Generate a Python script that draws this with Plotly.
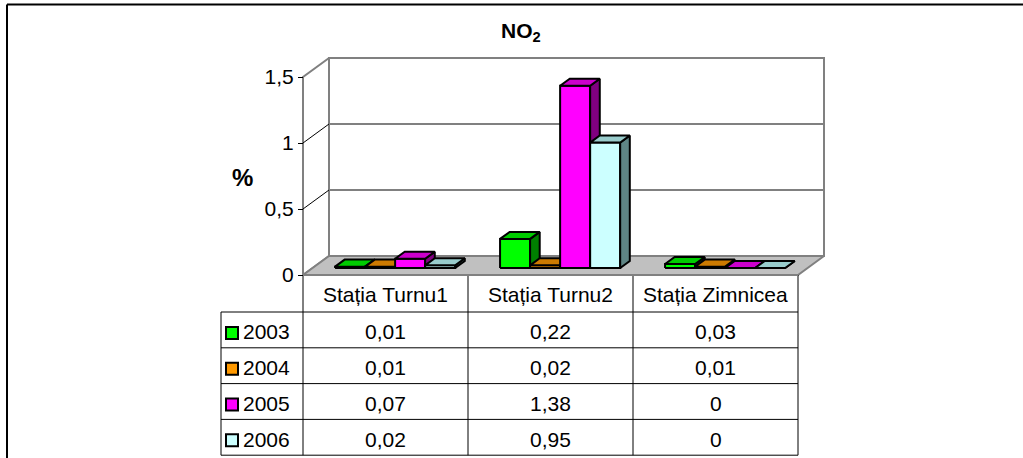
import plotly.graph_objects as go

# ---------------- data ----------------
categories = ["Stația Turnu1", "Stația Turnu2", "Stația Zimnicea"]
years = ["2003", "2004", "2005", "2006"]
v2003 = [0.01, 0.22, 0.03]
v2004 = [0.01, 0.02, 0.01]
v2005 = [0.07, 1.38, 0]
v2006 = [0.02, 0.95, 0]
y_tickvals = [0, 0.5, 1, 1.5]
y_ticktext = ["0", "0,5", "1", "1,5"]
title_text = "<b>NO<sub>2</sub></b>"
y_title = "<b>%</b>"

series = [v2003, v2004, v2005, v2006]

# ---------------- styles ----------------
front_colors = ["#00FF00", "#FF9900", "#FF00FF", "#CCFFFF"]
top_colors = ["#00CC00", "#CC7A00", "#CC00CC", "#99CCCC"]
side_colors = ["#008000", "#804D00", "#800080", "#5F8585"]
FONT = "Liberation Sans, Arial, sans-serif"
FS = 21

W, H = 1023, 458
# pixel layout of the front floor edge / value scale
PX_X0, PX_X1 = 303, 798
CAT_PX = (PX_X1 - PX_X0) / len(categories)
PX_Y0 = 275
PX_PER_UNIT = 132.0
DEPTH_DX_PX, DEPTH_DY_PX = 26, 19
YMAX = 1.5


def px2x(px):
    return (px - PX_X0) / CAT_PX


def py2y(py):
    return (PX_Y0 - py) / PX_PER_UNIT


DX = DEPTH_DX_PX / CAT_PX
DY = DEPTH_DY_PX / PX_PER_UNIT


def P(x, v, d):
    return (x + d * DX, v + d * DY)


fig = go.Figure()


def poly(points, fill, line_color, width):
    xs = [p[0] for p in points] + [points[0][0]]
    ys = [p[1] for p in points] + [points[0][1]]
    fig.add_trace(go.Scatter(x=xs, y=ys, mode="lines", fill="toself",
                             fillcolor=fill,
                             line=dict(color=line_color, width=width),
                             hoverinfo="skip", showlegend=False))


def seg(p0, p1, color, width):
    fig.add_trace(go.Scatter(x=[p0[0], p1[0]], y=[p0[1], p1[1]], mode="lines",
                             line=dict(color=color, width=width),
                             hoverinfo="skip", showlegend=False))


ncat = len(categories)
GRAY = "#808080"

# walls and floor
poly([P(0, 0, 1), P(0, YMAX, 1), P(ncat, YMAX, 1), P(ncat, 0, 1)], "white", GRAY, 2)
poly([P(0, 0, 0), P(0, YMAX, 0), P(0, YMAX, 1), P(0, 0, 1)], "white", GRAY, 2)
for v in y_tickvals[1:-1]:
    seg(P(0, v, 1), P(ncat, v, 1), GRAY, 2)
    seg(P(0, v, 0), P(0, v, 1), "black", 1)
poly([P(0, 0, 0), P(0, 0, 1), P(ncat, 0, 1), P(ncat, 0, 0)], "#C0C0C0", GRAY, 2)

# bars
BW = 0.182
GAP = 1 - BW * len(series)
D0, D1 = 0.37, 0.74
for i in range(ncat):
    for s, vals in enumerate(series):
        v = vals[i]
        xl = i + GAP / 2 + s * BW
        xr = xl + BW
        poly([P(xl, 0, D0), P(xl, v, D0), P(xr, v, D0), P(xr, 0, D0)],
             front_colors[s], "black", 2)
        poly([P(xr, 0, D0), P(xr, v, D0), P(xr, v, D1), P(xr, 0, D1)],
             side_colors[s], "black", 2)
        poly([P(xl, v, D0), P(xl, v, D1), P(xr, v, D1), P(xr, v, D0)],
             top_colors[s], "black", 2)

# data table
HEAD_BOTTOM = 312
ROW_H = 35.8
LEG_LEFT = 221
row_lines = [HEAD_BOTTOM + k * ROW_H for k in range(len(years) + 1)]
TABLE_BOTTOM = row_lines[-1]
for py in row_lines:
    seg((px2x(LEG_LEFT), py2y(py)), (ncat, py2y(py)), "black", 1)
for i in range(ncat + 1):
    seg((i, py2y(PX_Y0)), (i, py2y(TABLE_BOTTOM)), "black", 1)
seg((px2x(LEG_LEFT), py2y(HEAD_BOTTOM)), (px2x(LEG_LEFT), py2y(TABLE_BOTTOM)), "black", 1)
# floor front edge on top of the table
seg((0, 0), (ncat, 0), GRAY, 2)

annotations = []
for i, c in enumerate(categories):
    annotations.append(dict(x=i + 0.5, y=py2y((PX_Y0 + HEAD_BOTTOM) / 2 + 1), text=c,
                            showarrow=False, xanchor="center", yanchor="middle",
                            font=dict(family=FONT, size=FS, color="black")))


def fmt(v):
    if v == 0:
        return "0"
    return f"{v:.2f}".replace(".", ",")


for s, vals in enumerate(series):
    cy = py2y(row_lines[s] + ROW_H / 2 + 2)
    for i, v in enumerate(vals):
        annotations.append(dict(x=i + 0.5, y=cy, text=fmt(v), showarrow=False,
                                xanchor="center", yanchor="middle",
                                font=dict(family=FONT, size=FS, color="black")))
    annotations.append(dict(x=px2x(241), y=cy, text=years[s], showarrow=False,
                            xanchor="left", yanchor="middle",
                            font=dict(family=FONT, size=FS, color="black")))
    fig.add_trace(go.Scatter(x=[px2x(232)], y=[py2y(row_lines[s] + ROW_H / 2 + 3)],
                             mode="markers",
                             marker=dict(symbol="square", size=12, color=front_colors[s],
                                         line=dict(color="black", width=2)),
                             hoverinfo="skip", showlegend=False))

# title and axis title
annotations.append(dict(x=px2x(521), y=py2y(32), text=title_text, showarrow=False,
                        xanchor="center", yanchor="middle",
                        font=dict(family=FONT, size=FS, color="black")))
annotations.append(dict(x=px2x(242), y=py2y(177), text=y_title, showarrow=False,
                        xanchor="center", yanchor="middle",
                        font=dict(family=FONT, size=24, color="black")))

shapes = [
    dict(type="line", xref="paper", yref="paper", x0=7 / W, x1=1, y0=1 - 4.5 / H, y1=1 - 4.5 / H,
         line=dict(color="black", width=2)),
    dict(type="line", xref="paper", yref="paper", x0=7 / W, x1=7 / W, y0=0, y1=1 - 4.5 / H,
         line=dict(color="black", width=2)),
]

fig.update_layout(
    width=W, height=H, autosize=False,
    margin=dict(l=0, r=0, t=0, b=0),
    paper_bgcolor="white", plot_bgcolor="white",
    showlegend=False,
    annotations=annotations,
    shapes=shapes,
    xaxis=dict(range=[px2x(0), px2x(W)], visible=False, fixedrange=True),
    yaxis=dict(range=[py2y(H), py2y(0)], anchor="free", position=PX_X0 / W,
               tickvals=y_tickvals, ticktext=y_ticktext,
               showgrid=False, zeroline=False, showline=False,
               ticks="outside", ticklen=5, tickcolor="black", tickwidth=1,
               tickfont=dict(family=FONT, size=FS, color="black"), fixedrange=True),
)

fig.write_html("out.html")
